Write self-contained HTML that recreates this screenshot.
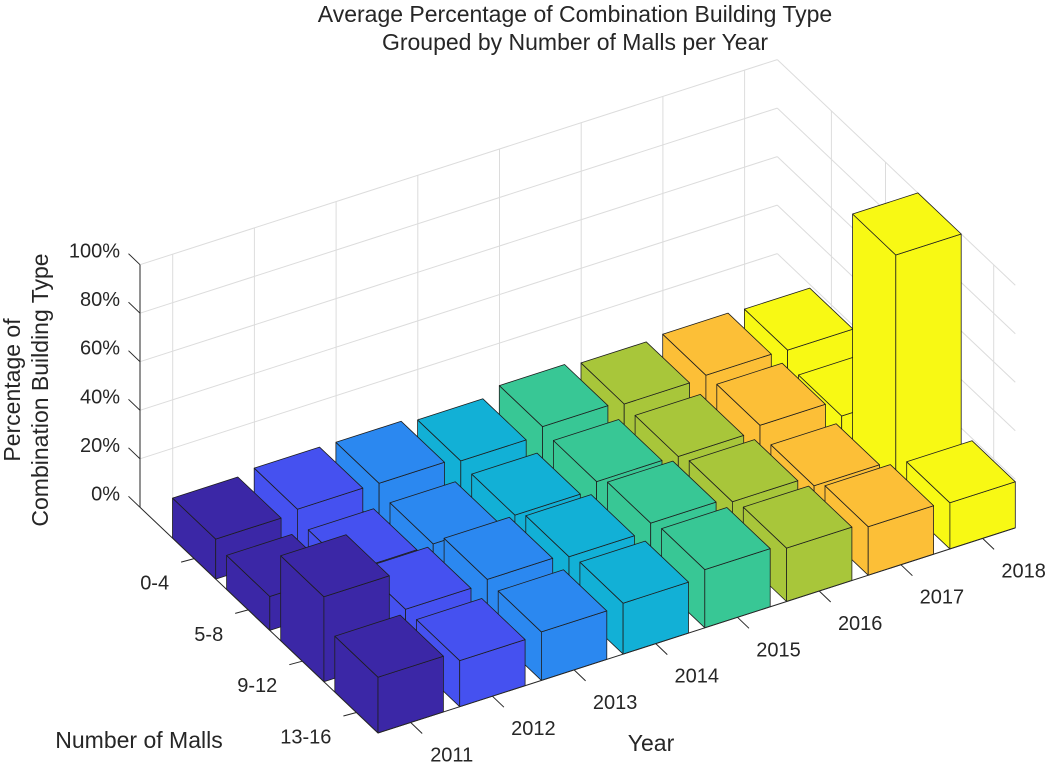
<!DOCTYPE html>
<html><head><meta charset="utf-8"><style>
html,body{margin:0;padding:0;background:#fff;}
svg{display:block;font-family:"Liberation Sans",Arial,sans-serif;}
</style></head><body>
<svg id="chart" width="1048" height="767" viewBox="0 0 1048 767" xmlns="http://www.w3.org/2000/svg">
<rect width="1048" height="767" fill="#fff"/>
<g id="grid"></g>
<g id="bars"></g>
<g id="axes"></g>
<text x="575" y="22" font-size="23" text-anchor="middle" fill="#262626">Average Percentage of Combination Building Type</text>
<text x="575" y="50" font-size="23" text-anchor="middle" fill="#262626">Grouped by Number of Malls per Year</text>
<text x="139" y="748" font-size="23" text-anchor="middle" fill="#262626">Number of Malls</text>
<text x="651" y="751" font-size="23" text-anchor="middle" fill="#262626">Year</text>
<text transform="translate(20,390) rotate(-90)" font-size="23" text-anchor="middle" fill="#262626">Percentage of</text>
<text transform="translate(48,390) rotate(-90)" font-size="23" text-anchor="middle" fill="#262626">Combination Building Type</text>
</svg>
<script>
const years = ["2011","2012","2013","2014","2015","2016","2017","2018"];
const mallGroups = ["0-4","5-8","9-12","13-16"];
const malls0to4 = [0.165,0.18,0.178,0.162,0.195,0.18,0.19,0.185];
const malls5to8 = [0.14,0.137,0.14,0.15,0.18,0.175,0.195,0.125];
const malls9to12 = [0.35,0.19,0.205,0.19,0.22,0.20,0.157,1.0];
const malls13to16 = [0.23,0.19,0.20,0.21,0.24,0.22,0.20,0.19];
const zTicks = [0,0.2,0.4,0.6,0.8,1.0];
const zTickLabels = ["0%","20%","40%","60%","80%","100%"];
const yearColors = ["#3b27a6","#4551f0","#2b88f0","#12b0d6","#38c795","#a8c63a","#fcbf37","#f8f914"];

const series = [malls0to4, malls5to8, malls9to12, malls13to16];
const U0 = 0.6, U1 = 8.4, V0 = 0, V1 = 4.4;
function P(u, v, z) {
  return [140 + (u - 0.6) * 81.7 + v * 54.1, 507.3 - (u - 0.6) * 26.3 + v * 51.3 - z * 242.6];
}
const NS = "http://www.w3.org/2000/svg";
function line(g, a, b, stroke, w) {
  const l = document.createElementNS(NS, "line");
  l.setAttribute("x1", a[0].toFixed(1)); l.setAttribute("y1", a[1].toFixed(1));
  l.setAttribute("x2", b[0].toFixed(1)); l.setAttribute("y2", b[1].toFixed(1));
  l.setAttribute("stroke", stroke); l.setAttribute("stroke-width", w);
  g.appendChild(l);
  return l;
}
function poly(g, pts, fill) {
  const p = document.createElementNS(NS, "polygon");
  p.setAttribute("points", pts.map(q => q[0].toFixed(1) + "," + q[1].toFixed(1)).join(" "));
  p.setAttribute("fill", fill);
  p.setAttribute("stroke", "#1e1e1e");
  p.setAttribute("stroke-width", "0.8");
  p.setAttribute("stroke-linejoin", "round");
  g.appendChild(p);
  return p;
}
function text(g, x, y, s, anchor) {
  const t = document.createElementNS(NS, "text");
  t.setAttribute("x", x.toFixed(1)); t.setAttribute("y", y.toFixed(1));
  t.setAttribute("font-size", "20");
  t.setAttribute("fill", "#262626");
  t.setAttribute("text-anchor", anchor);
  t.textContent = s;
  g.appendChild(t);
  return t;
}
const grid = document.getElementById("grid");
const gc = "#dcdcdc";
years.forEach((y, i) => {
  const l = line(grid, P(i + 1, V0, 0), P(i + 1, V1, 0), gc, 1);
  
  
  const b = line(grid, P(i + 1, V0, 0), P(i + 1, V0, 1), gc, 1);
  
  
});
mallGroups.forEach((m, j) => {
  const l = line(grid, P(U0, j + 1, 0), P(U1, j + 1, 0), gc, 1);
  
  
  const r = line(grid, P(U1, j + 1, 0), P(U1, j + 1, 1), gc, 1);
  
  
});
zTicks.forEach(z => {
  if (z === 0) return;
  const a = line(grid, P(U0, V0, z), P(U1, V0, z), gc, 1);
  
  
  const b = line(grid, P(U1, V0, z), P(U1, V1, z), gc, 1);
  
  
});
const barsG = document.getElementById("bars");
for (let j = 0; j < mallGroups.length; j++) {
  for (let i = years.length - 1; i >= 0; i--) {
    const h = series[j][i];
    const u = i + 1, v = j + 1, d = 0.4;
    const g = document.createElementNS(NS, "g");
    
    
    const c = yearColors[i];
    poly(g, [P(u - d, v - d, 0), P(u - d, v + d, 0), P(u - d, v + d, h), P(u - d, v - d, h)], c);
    poly(g, [P(u - d, v + d, 0), P(u + d, v + d, 0), P(u + d, v + d, h), P(u - d, v + d, h)], c);
    poly(g, [P(u - d, v - d, h), P(u + d, v - d, h), P(u + d, v + d, h), P(u - d, v + d, h)], c);
    barsG.appendChild(g);
  }
}
const axes = document.getElementById("axes");
const ac = "#262626";
const za = line(axes, P(U0, V0, 0), P(U0, V0, 1), ac, 1);


const ma = line(axes, P(U0, V0, 0), P(U0, V1, 0), ac, 1);


const ya = line(axes, P(U0, V1, 0), P(U1, V1, 0), ac, 1);


zTicks.forEach((z, k) => {
  const a = P(U0, V0, z);
  const t = line(axes, a, [a[0] - 11.5, a[1] - 11], ac, 1);
  
  
  const lb = text(axes, a[0] - 20, a[1] - 7, zTickLabels[k], "end");
  
  
});
mallGroups.forEach((m, j) => {
  const a = P(U0, j + 1, 0);
  const t = line(axes, a, [a[0] - 13, a[1] + 3.5], ac, 1);
  
  
  const lb = text(axes, a[0] - 25, a[1] + 31, m, "end");
  
  
});
years.forEach((y, i) => {
  const a = P(i + 1, V1, 0);
  const t = line(axes, a, [a[0] + 11.5, a[1] + 11], ac, 1);
  
  
  const lb = text(axes, a[0] + 41, a[1] + 39, y, "middle");
  
  
});
</script>
</body></html>
